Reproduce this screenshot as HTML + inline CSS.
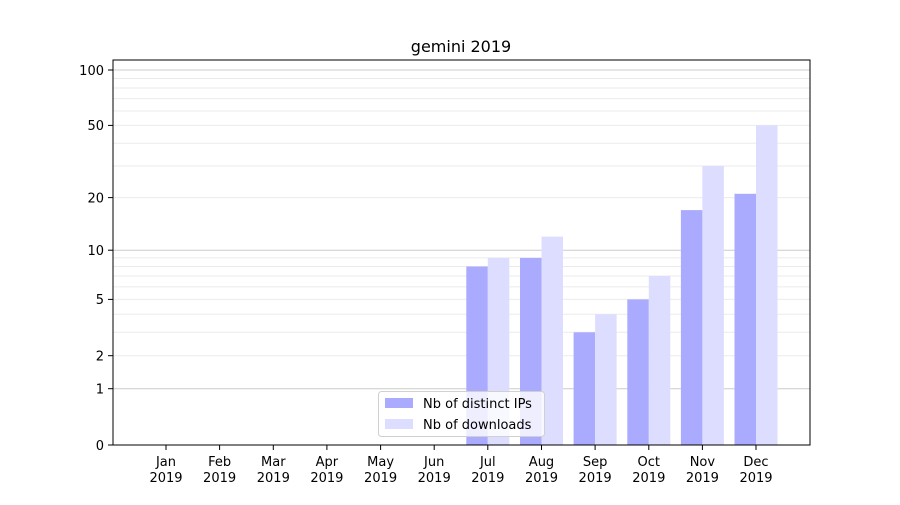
<!DOCTYPE html>
<html><head><meta charset="utf-8"><style>
body{margin:0;background:#fff;}
text{font-family:"DejaVu Sans","Liberation Sans",sans-serif;font-size:13px;fill:#000;}
</style></head><body>
<svg width="900" height="500" xmlns="http://www.w3.org/2000/svg">
<rect width="900" height="500" fill="#fff"/>
<g stroke="#ebebeb" stroke-width="1">
<line x1="113" x2="810" y1="332.3" y2="332.3"/><line x1="113" x2="810" y1="314.2" y2="314.2"/>
<line x1="113" x2="810" y1="286.9" y2="286.9"/><line x1="113" x2="810" y1="276" y2="276"/>
<line x1="113" x2="810" y1="266.5" y2="266.5"/><line x1="113" x2="810" y1="257.9" y2="257.9"/>
<line x1="113" x2="810" y1="355.7" y2="355.7"/><line x1="113" x2="810" y1="299.4" y2="299.4"/>
<line x1="113" x2="810" y1="197.6" y2="197.6"/><line x1="113" x2="810" y1="166" y2="166"/>
<line x1="113" x2="810" y1="143.2" y2="143.2"/><line x1="113" x2="810" y1="125.4" y2="125.4"/>
<line x1="113" x2="810" y1="111" y2="111"/><line x1="113" x2="810" y1="98.6" y2="98.6"/>
<line x1="113" x2="810" y1="88" y2="88"/><line x1="113" x2="810" y1="78.5" y2="78.5"/>
</g>
<g stroke="#cccccc" stroke-width="1">
<line x1="113" x2="810" y1="388.7" y2="388.7"/><line x1="113" x2="810" y1="250.2" y2="250.2"/>
<line x1="113" x2="810" y1="70" y2="70"/>
</g>
<g fill="#aaaaff">
<rect x="466.3" y="266.5" width="21.5" height="178.5"/>
<rect x="520" y="257.9" width="21.5" height="187.1"/>
<rect x="573.6" y="332.3" width="21.5" height="112.7"/>
<rect x="627.3" y="299.4" width="21.5" height="145.6"/>
<rect x="680.9" y="210.1" width="21.5" height="234.9"/>
<rect x="734.5" y="193.8" width="21.5" height="251.2"/>
</g>
<g fill="#ddddff">
<rect x="487.8" y="257.9" width="21.5" height="187.1"/>
<rect x="541.5" y="236.6" width="21.5" height="208.4"/>
<rect x="595.1" y="314.2" width="21.5" height="130.8"/>
<rect x="648.8" y="276" width="21.5" height="169"/>
<rect x="702.4" y="166" width="21.5" height="279"/>
<rect x="756" y="125.4" width="21.5" height="319.6"/>
</g>
<rect x="113" y="60" width="697" height="385" fill="none" stroke="#000" stroke-width="1"/>
<g stroke="#000">
<line x1="108" x2="113" y1="445" y2="445"/><line x1="108" x2="113" y1="388.7" y2="388.7"/>
<line x1="108" x2="113" y1="355.7" y2="355.7"/><line x1="108" x2="113" y1="299.4" y2="299.4"/>
<line x1="108" x2="113" y1="250.2" y2="250.2"/><line x1="108" x2="113" y1="197.6" y2="197.6"/>
<line x1="108" x2="113" y1="125.4" y2="125.4"/><line x1="108" x2="113" y1="70" y2="70"/>
</g>
<g text-anchor="end">
<text x="104" y="450">0</text><text x="104" y="393.5">1</text><text x="104" y="360.5">2</text>
<text x="104" y="304">5</text><text x="104" y="255">10</text><text x="104" y="202.5">20</text>
<text x="104" y="130">50</text><text x="104" y="75">100</text>
</g>
<g stroke="#000">
<line x1="166" x2="166" y1="445" y2="450"/><line x1="219.6" x2="219.6" y1="445" y2="450"/>
<line x1="273.3" x2="273.3" y1="445" y2="450"/><line x1="326.9" x2="326.9" y1="445" y2="450"/>
<line x1="380.6" x2="380.6" y1="445" y2="450"/><line x1="434.2" x2="434.2" y1="445" y2="450"/>
<line x1="487.8" x2="487.8" y1="445" y2="450"/><line x1="541.5" x2="541.5" y1="445" y2="450"/>
<line x1="595.1" x2="595.1" y1="445" y2="450"/><line x1="648.8" x2="648.8" y1="445" y2="450"/>
<line x1="702.4" x2="702.4" y1="445" y2="450"/><line x1="756" x2="756" y1="445" y2="450"/>
</g>
<g text-anchor="middle">
<text x="166" y="466">Jan</text><text x="166" y="482">2019</text>
<text x="219.6" y="466">Feb</text><text x="219.6" y="482">2019</text>
<text x="273.3" y="466">Mar</text><text x="273.3" y="482">2019</text>
<text x="326.9" y="466">Apr</text><text x="326.9" y="482">2019</text>
<text x="380.6" y="466">May</text><text x="380.6" y="482">2019</text>
<text x="434.2" y="466">Jun</text><text x="434.2" y="482">2019</text>
<text x="487.8" y="466">Jul</text><text x="487.8" y="482">2019</text>
<text x="541.5" y="466">Aug</text><text x="541.5" y="482">2019</text>
<text x="595.1" y="466">Sep</text><text x="595.1" y="482">2019</text>
<text x="648.8" y="466">Oct</text><text x="648.8" y="482">2019</text>
<text x="702.4" y="466">Nov</text><text x="702.4" y="482">2019</text>
<text x="756" y="466">Dec</text><text x="756" y="482">2019</text>
<text x="461" y="52" style="font-size:16px">gemini 2019</text>
</g>
<rect x="378.5" y="391.5" width="166" height="45" rx="3" fill="#fff" fill-opacity="0.8" stroke="#d0d0d0"/>
<rect x="385" y="398" width="28" height="10" fill="#aaaaff"/>
<rect x="385" y="419" width="28" height="10" fill="#ddddff"/>
<text x="423" y="408">Nb of distinct IPs</text>
<text x="423" y="429">Nb of downloads</text>
</svg>
</body></html>
